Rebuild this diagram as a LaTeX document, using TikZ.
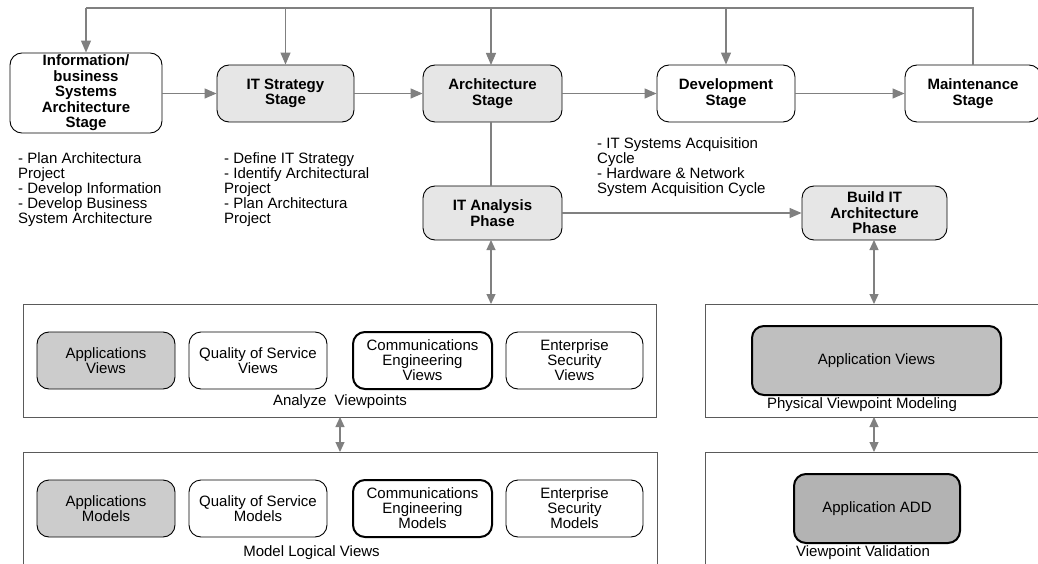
\documentclass[tikz,border=0pt]{standalone}
\usepackage{fontspec}
\setmainfont{Liberation Sans}
\usetikzlibrary{arrows.meta}
\definecolor{stagegray}{HTML}{E6E6E6}
\definecolor{appgray}{HTML}{CCCCCC}
\definecolor{viewgray}{HTML}{BFBFBF}
\definecolor{addgray}{HTML}{B3B3B3}
\definecolor{linkgray}{HTML}{808080}
\definecolor{framegray}{HTML}{5A5A5A}
\tikzset{
  stagebox/.style={draw=black, line width=0.9pt, rounded corners=12pt, align=center,
    font=\fontsize{15}{15.5}\selectfont\bfseries, inner sep=2pt},
  viewbox/.style={draw=black, line width=0.9pt, rounded corners=12pt, align=center,
    font=\fontsize{15}{15}\selectfont, inner sep=2pt,
    minimum height=57pt},
  thickbox/.style={viewbox, line width=2pt},
  panel/.style={draw=framegray, line width=1pt},
  listtext/.style={anchor=north west, align=left, inner sep=0pt,
    font=\fontsize{15}{15}\selectfont},
  caption/.style={inner sep=0pt, font=\fontsize{15}{15}\selectfont},
  link/.style={draw=linkgray, line width=1.2pt},
  flow/.style={link, -{Triangle[length=12pt,width=10pt]}, color=linkgray},
  twoway/.style={link, {Triangle[length=10pt,width=9pt]}-{Triangle[length=10pt,width=9pt]}, color=linkgray}
}
\begin{document}
\begin{tikzpicture}[x=1pt,y=-1pt]
\useasboundingbox (0,0) rectangle (1038,564);

% stage row
\node[stagebox, minimum width=152pt, minimum height=80pt] (info) at (86,93)
  {Information/\\business\\Systems\\Architecture\\Stage};
\node[stagebox, fill=stagegray, minimum width=137pt, minimum height=57pt] (strat) at (285.5,93.5)
  {IT Strategy\\Stage};
\node[stagebox, fill=stagegray, minimum width=139pt, minimum height=57pt] (arch) at (492.5,93.5)
  {Architecture\\Stage};
\node[stagebox, minimum width=138pt, minimum height=57pt] (dev) at (726,93.5)
  {Development\\Stage};
\node[stagebox, minimum width=136pt, minimum height=57pt] (maint) at (973,93.5)
  {Maintenance\\Stage};

% phases
\node[stagebox, fill=stagegray, minimum width=139pt, minimum height=54pt] (ana) at (492.5,213)
  {IT Analysis\\Phase};
\node[stagebox, fill=stagegray, minimum width=145pt, minimum height=54pt] (build) at (874.5,213)
  {Build IT\\Architecture\\Phase};

% activity lists
\node[listtext] (infolist) at (18,152.5)
  {- Plan Architectura\\Project\\- Develop Information\\- Develop Business\\System Architecture};
\node[listtext] (stratlist) at (224,152.5)
  {- Define IT Strategy\\- Identify Architectural\\Project\\- Plan Architectura\\Project};
\node[listtext] (devlist) at (597,137.5)
  {- IT Systems Acquisition\\Cycle\\- Hardware \& Network\\System Acquisition Cycle};

% panels
\node[panel, minimum width=633pt, minimum height=113pt, inner sep=0pt] (anapanel) at (339.5,360.5) {};
\node[panel, minimum width=340pt, minimum height=113pt, inner sep=0pt] (physpanel) at (875,360.5) {};
\node[panel, minimum width=634pt, minimum height=118pt, inner sep=0pt] (modpanel) at (340,511) {};
\node[panel, minimum width=340pt, minimum height=118pt, inner sep=0pt] (valpanel) at (875,511) {};

% viewpoint row
\node[viewbox, fill=appgray, minimum width=138pt] (appv) at (106,360.5) {Applications\\Views};
\node[viewbox, minimum width=138pt] (qosv) at (258,360.5) {Quality of Service\\Views};
\node[thickbox, minimum width=139pt] (comv) at (422.5,360.5) {Communications\\Engineering\\Views};
\node[viewbox, minimum width=137pt] (secv) at (574.5,360.5) {Enterprise\\Security\\Views};
\node[caption] (anacap) at (340,402) {Analyze\ \ Viewpoints};

% model row
\node[viewbox, fill=appgray, minimum width=138pt] (appm) at (106,508.5) {Applications\\Models};
\node[viewbox, minimum width=138pt] (qosm) at (258,508.5) {Quality of Service\\Models};
\node[thickbox, minimum width=139pt] (comm) at (422.5,508.5) {Communications\\Engineering\\Models};
\node[viewbox, minimum width=137pt] (secm) at (574.5,508.5) {Enterprise\\Security\\Models};
\node[caption] (modcap) at (311.5,553) {Model Logical Views};

% physical side
\node[thickbox, fill=viewgray, minimum width=249pt, minimum height=69pt] (appview) at (876.5,360.5) {Application Views};
\node[caption] (physcap) at (862,405) {Physical Viewpoint Modeling};
\node[thickbox, fill=addgray, minimum width=166pt, minimum height=69pt] (appadd) at (877,508.5) {Application ADD};
\node[caption] (valcap) at (863,553) {Viewpoint Validation};

% feedback loop along the top
\coordinate (loopL) at (86,8);
\coordinate (loopR) at (973,8);
\draw[link] (maint.north) -- (loopR) -- (loopL);
\draw[flow] (loopL) -- (info.north);
\draw[flow] (strat.north |- loopL) -- (strat.north);
\draw[flow] (491,8) -- (491,65);
\draw[flow] (dev.north |- loopL) -- (dev.north);

% stage sequence
\draw[flow] (info.east |- strat.east) -- (strat.west);
\draw[flow] (strat.east) -- (arch.west);
\draw[flow] (arch.east) -- (dev.west);
\draw[flow] (dev.east) -- (maint.west);

% phases
\draw[link] (491,122) -- (491,186);
\draw[flow] (ana.east) -- (build.west);
\draw[twoway] (491,240) -- (491,304);
\draw[twoway] (874,240) -- (874,304);
\draw[twoway] (340,417) -- (340,452);
\draw[twoway] (874,417) -- (874,452);
\end{tikzpicture}
\end{document}
